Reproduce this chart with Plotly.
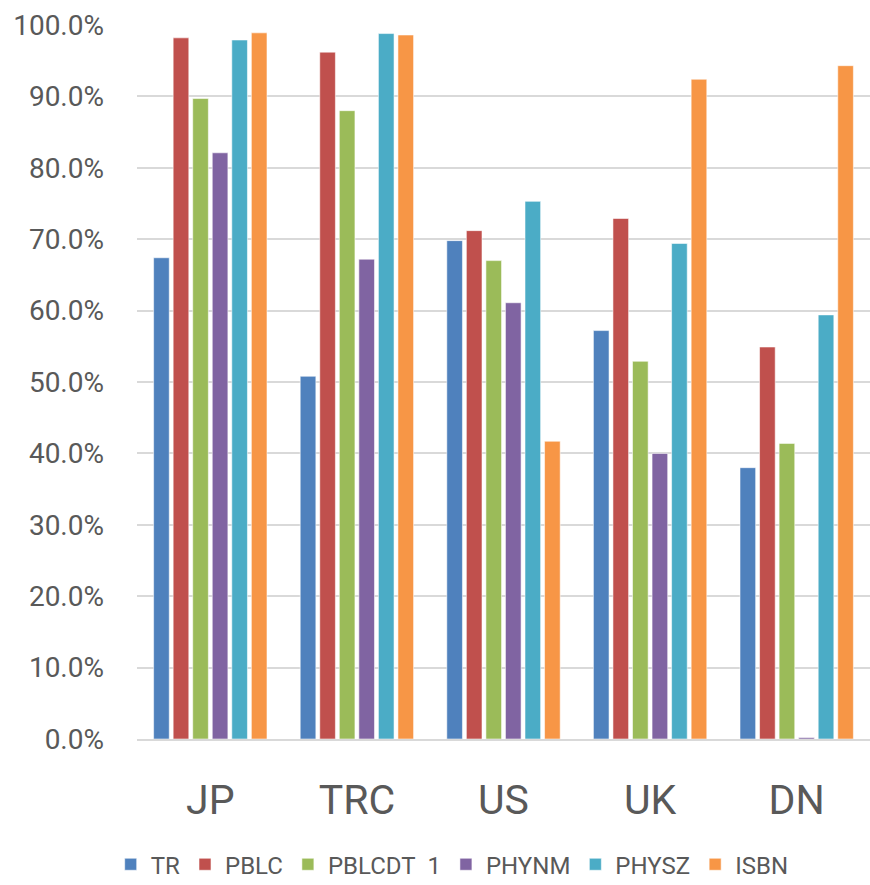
import plotly.graph_objects as go

# Share of records with each field populated, by source
categories = ["JP", "TRC", "US", "UK", "DN"]

tr = [0.674, 0.508, 0.698, 0.572, 0.380]
pblc = [0.982, 0.962, 0.712, 0.729, 0.549]
pblcdt_1 = [0.897, 0.880, 0.670, 0.529, 0.414]
phynm = [0.821, 0.672, 0.611, 0.400, 0.002]
physz = [0.979, 0.988, 0.753, 0.694, 0.594]
isbn = [0.989, 0.986, 0.417, 0.924, 0.943]

series_names = ["TR", "PBLC", "PBLCDT\u00a0\u00a01", "PHYNM", "PHYSZ", "ISBN"]
series_values = [tr, pblc, pblcdt_1, phynm, physz, isbn]
series_colors = ["#4F81BD", "#C0504D", "#9BBB59", "#8064A2", "#4BACC6", "#F79646"]

fig = go.Figure()
for name, vals, color in zip(series_names, series_values, series_colors):
    fig.add_trace(go.Bar(
        x=categories,
        y=vals,
        name=name,
        marker=dict(color=color, line=dict(color="rgba(255,255,255,0.55)", width=1)),
    ))

text_color = "#595959"
fig.update_layout(
    width=870,
    height=885,
    barmode="group",
    bargap=0.2,
    bargroupgap=0.2,
    plot_bgcolor="white",
    paper_bgcolor="white",
    font=dict(family="Roboto", color=text_color),
    margin=dict(l=137, r=0, t=25, b=146, autoexpand=False),
    xaxis=dict(
        automargin=False,
        showgrid=False,
        showline=True,
        linecolor="#d9d9d9",
        linewidth=2,
        tickfont=dict(size=41, color=text_color),
        ticklabelstandoff=24,
    ),
    yaxis=dict(
        automargin=False,
        range=[0, 1],
        dtick=0.1,
        tickformat=".1%",
        showgrid=True,
        gridcolor="#d9d9d9",
        gridwidth=1.5,
        zeroline=False,
        showline=False,
        tickfont=dict(size=28, color=text_color),
        ticklabelstandoff=32,
    ),
    legend=dict(
        orientation="h",
        xanchor="center",
        x=0.43,
        yanchor="middle",
        y=-0.176,
        font=dict(size=24, color=text_color),
        itemwidth=30,
        traceorder="normal",
    ),
)

fig.write_html("out.html")
